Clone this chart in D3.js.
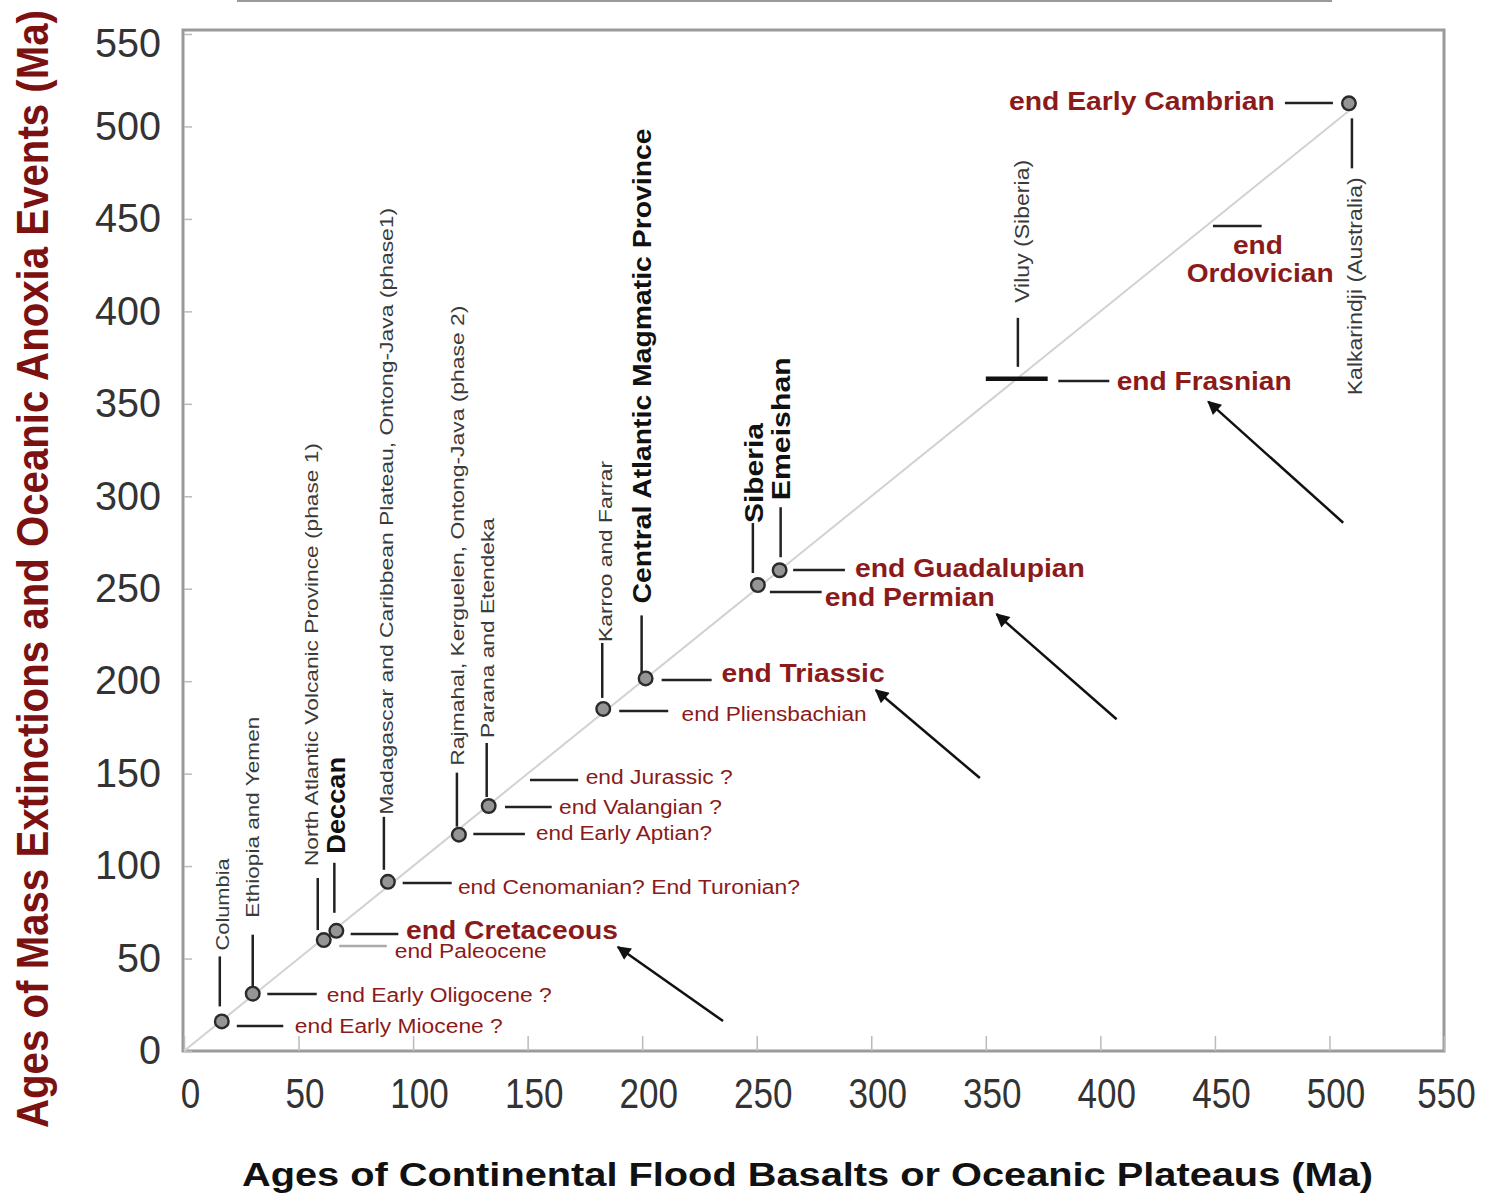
<!DOCTYPE html>
<html><head><meta charset="utf-8">
<script src="https://cdn.jsdelivr.net/npm/d3@7"></script>
<style>
body{margin:0;background:#fff;}
svg{display:block;}
text{font-family:'Liberation Sans',Arial,Helvetica,sans-serif;}
</style>
</head><body>
<svg id="chart" width="1489" height="1193"></svg>
<script>
// ---------------- DATA ----------------
const xTicks = [0,50,100,150,200,250,300,350,400,450,500,550];
const yTicks = [0,50,100,150,200,250,300,350,400,450,500,550];

const provinceNames = ["Columbia","Ethiopia and Yemen","North Atlantic Volcanic Province (phase 1)","Deccan",
  "Madagascar and Caribbean Plateau, Ontong-Java (phase1)","Rajmahal, Kerguelen, Ontong-Java (phase 2)",
  "Parana and Etendeka","Karroo and Farrar","Central Atlantic Magmatic Province","Siberia","Emeishan",
  "Viluy (Siberia)","Kalkarindji (Australia)"];
const provinceAges   = [16.5,30,61,66.5,89,120,133,183,201.5,250.5,260,364,508.5];
const extinctionAges = [16,31,60,65,91.5,117,132.5,185,201.5,252,260,363.5,512.5];
const provinceBold   = [false,false,false,true,false,false,false,false,true,true,true,false,false];
const viluyAgeRange  = [350,377];

const eventNames = ["end Early Miocene ?","end Early Oligocene ?","end Paleocene","end Cretaceous",
  "end Cenomanian? End Turonian?","end Early Aptian?","end Valangian ?","end Jurassic ?","end Pliensbachian",
  "end Triassic","end Permian","end Guadalupian","end Frasnian","end Ordovician","end Early Cambrian"];
const eventAges       = [13.5,30.8,56.8,63.3,90.9,117.4,132,146.6,183.9,200.6,248.2,260.1,362.4,446.2,512.7];
const eventAnchorAges = [16.5,30,61,66.5,89,120,133,145,183,201.5,250.5,260,364,445,508.5];
const eventMajor      = [false,false,false,true,false,false,false,false,false,true,true,true,true,true,true];

const diagonalAges = [0,510];

// ---------------- LAYOUT (pixel offsets, sizes) ----------------
// province label: [lineDx, lineDy0, lineDy1, textDx, textDy, textLength, fontSize]
const provinceLayout = [
  [-2,-15,-65, 7,-71, 92,19],
  [ 0, -6,-59, 6,-76,201,19],
  [-6,-10,-62,-6,-74,423,19],
  [-2,-18,-68, 9,-77, 97,26],
  [-4,-12,-65, 5,-67,607,19],
  [-2, -8,-62, 5,-69,460,19],
  [-2, -9,-63, 5,-68,220,19],
  [-1,-11,-66, 9,-67,181,19],
  [-4, -5,-63, 5,-75,475,26],
  [-5,-12,-62, 5,-62,100,26],
  [ 1,-13,-63,10,-70,143,26],
  [ 0,-12,-61,11,-76,143,20],
  [ 3, 15, 65,13,292,218,20]
];
// event label: [lineX0, lineX1, textDx, textDy, textLength]
const eventLayout = [
  [15,61.5,73,0,208],
  [14.6,64,74,1,225],
  [15.5,63,71,5,152],
  [14.3,62,69.6,-4,212],
  [14.8,63.8,70,4,342],
  [14.4,66,77,-1,176],
  [16.3,63,70.3,0,163],
  [13.8,62,69.5,-3,147],
  [16,65,78.4,3,185],
  [16,66,76,-7,163],
  [12,63.8,67,5,170],
  [13.5,65.3,75.3,-2,230],
  [40.4,91.4,98.8,0,175],
  [9.5,58.2,0,0,0],
  [-64,-16,-74,-1.5,266]
];
// arrows (in axis units): tail -> tip
const arrowTails = [[235.3,16.2],[347.4,147.6],[407.1,179.4],[506,285.7]];
const arrowTips  = [[189.4,56.2],[302,195.2],[354.7,236.3],[447.1,351.2]];

// ---------------- CHART ----------------
const svg = d3.select("#chart");
svg.append("rect").attr("width",1489).attr("height",1193).attr("fill","#fff");

const x = d3.scaleLinear().domain([0,550]).range([184,1444]);
const y = d3.scaleLinear().domain([0,550]).range([1051,34]);

const RED = "#8b1a1a", GRAY_TXT = "#3a3a3a";

// stray top line
svg.append("line").attr("x1",237).attr("x2",1332).attr("y1",1).attr("y2",1)
  .attr("stroke","#9a9a9a").attr("stroke-width",2);

// frame
svg.append("rect").attr("x",183).attr("y",30).attr("width",1261).attr("height",1021)
  .attr("fill","none").attr("stroke","#9a9a9a").attr("stroke-width",3);

// axes
const yAxis = d3.axisLeft(y).tickValues(yTicks).tickSize(-8).tickPadding(23).tickFormat(d3.format("d"));
const gy = svg.append("g").attr("transform","translate(184,0)").call(yAxis);
gy.select(".domain").remove();
gy.selectAll(".tick line").attr("stroke","#bbb").attr("stroke-width",1.5);
gy.selectAll(".tick text").attr("font-size",40).attr("fill","#333")
  .attr("font-family","'Liberation Sans',Arial,sans-serif")
  .attr("lengthAdjust","spacingAndGlyphs")
  .attr("textLength",d=>String(d).length*22)
  .attr("dy",d=>d===550?"1.5em":"0.32em");
gy.selectAll(".tick text").filter(d=>d===550).attr("dy","0.55em");

const xAxis = d3.axisBottom(x).tickValues(xTicks).tickSize(-15).tickPadding(27).tickFormat(d3.format("d"));
const gx = svg.append("g").attr("transform","translate(0,1051)").call(xAxis);
gx.select(".domain").remove();
gx.selectAll(".tick line").attr("stroke","#bbb").attr("stroke-width",1.5);
gx.selectAll(".tick text").attr("font-size",42).attr("fill","#333").attr("dx",d=>d===550?2:6)
  .attr("font-family","'Liberation Sans',Arial,sans-serif")
  .attr("lengthAdjust","spacingAndGlyphs")
  .attr("textLength",d=>String(d).length*19.5);

// axis titles
svg.append("text").attr("x",807.5).attr("y",1186).attr("text-anchor","middle")
  .attr("font-size",33).attr("font-weight","bold").attr("fill","#111")
  .attr("textLength",1131).attr("lengthAdjust","spacingAndGlyphs")
  .text("Ages of Continental Flood Basalts or Oceanic Plateaus (Ma)");
svg.append("text").attr("transform","translate(48,1128) rotate(-90)").attr("text-anchor","start")
  .attr("font-size",44).attr("font-weight","bold").attr("fill","#7b1111")
  .attr("textLength",1118).attr("lengthAdjust","spacingAndGlyphs")
  .text("Ages of Mass Extinctions and Oceanic Anoxia Events  (Ma)");

// diagonal 1:1 line
svg.append("line")
  .attr("x1",x(diagonalAges[0])).attr("y1",y(diagonalAges[0]))
  .attr("x2",x(diagonalAges[1])).attr("y2",y(diagonalAges[1]))
  .attr("stroke","#d2d2d2").attr("stroke-width",2);

// province connectors + labels
const provinces = provinceNames.map((n,i)=>({name:n, px:x(provinceAges[i]), py:y(extinctionAges[i]), bold:provinceBold[i], L:provinceLayout[i]}));
const gp = svg.append("g");
provinces.forEach(p=>{
  const [ldx,ldy0,ldy1,tdx,tdy,tlen,fs] = p.L;
  gp.append("line").attr("x1",p.px+ldx).attr("x2",p.px+ldx).attr("y1",p.py+ldy0).attr("y2",p.py+ldy1)
    .attr("stroke","#222").attr("stroke-width",2.5);
  gp.append("text").attr("transform",`translate(${p.px+tdx},${p.py+tdy}) rotate(-90)`)
    .attr("text-anchor","start").attr("font-size",fs).attr("font-weight",p.bold?"bold":"normal")
    .attr("fill",p.bold?"#111":GRAY_TXT)
    .attr("textLength",tlen).attr("lengthAdjust","spacingAndGlyphs").text(p.name);
});

// Viluy age range bar
const vi = provinceNames.indexOf("Viluy (Siberia)");
svg.append("line").attr("x1",x(viluyAgeRange[0])).attr("x2",x(viluyAgeRange[1]))
  .attr("y1",y(extinctionAges[vi])).attr("y2",y(extinctionAges[vi]))
  .attr("stroke","#111").attr("stroke-width",4.5);

// event connectors + labels
const ge = svg.append("g");
eventNames.forEach((n,i)=>{
  const ax = x(eventAnchorAges[i]), ey = y(eventAges[i]);
  const [x0,x1,tdx,tdy,tlen] = eventLayout[i];
  const isPaleo = n==="end Paleocene";
  ge.append("line").attr("x1",ax+x0).attr("x2",ax+x1).attr("y1",ey).attr("y2",ey)
    .attr("stroke",isPaleo?"#aaa":"#222").attr("stroke-width",2.5);
  const fs = eventMajor[i]?25:20;
  const fw = eventMajor[i]?"bold":"normal";
  if(n==="end Ordovician"){
    ge.append("text").attr("x",ax+54.5).attr("y",ey+19).attr("text-anchor","middle")
      .attr("dominant-baseline","central").attr("font-size",fs).attr("font-weight",fw).attr("fill",RED)
      .attr("textLength",50).attr("lengthAdjust","spacingAndGlyphs").text("end");
    ge.append("text").attr("x",ax-16.8).attr("y",ey+47).attr("text-anchor","start")
      .attr("dominant-baseline","central").attr("font-size",fs).attr("font-weight",fw).attr("fill",RED)
      .attr("textLength",147).attr("lengthAdjust","spacingAndGlyphs").text("Ordovician");
  } else {
    ge.append("text").attr("x",ax+tdx).attr("y",ey+tdy)
      .attr("text-anchor",tdx<0?"end":"start").attr("dominant-baseline","central")
      .attr("font-size",fs).attr("font-weight",fw).attr("fill",RED)
      .attr("textLength",tlen).attr("lengthAdjust","spacingAndGlyphs").text(n);
  }
});

// points
svg.append("g").selectAll("circle")
  .data(provinces.filter(p=>p.name!=="Viluy (Siberia)"))
  .join("circle")
  .attr("cx",d=>d.px).attr("cy",d=>d.py).attr("r",6.8)
  .attr("fill","#959595").attr("stroke","#2a2a2a").attr("stroke-width",2.4);

// arrows
const defs = svg.append("defs");
defs.append("marker").attr("id","ah").attr("viewBox","0 0 10 10").attr("refX",9).attr("refY",5)
  .attr("markerWidth",7).attr("markerHeight",5.5).attr("markerUnits","strokeWidth").attr("orient","auto")
  .append("path").attr("d","M0,0 L10,5 L0,10 z").attr("fill","#111");
arrowTails.forEach((t,i)=>{
  const h = arrowTips[i];
  svg.append("line").attr("x1",x(t[0])).attr("y1",y(t[1])).attr("x2",x(h[0])).attr("y2",y(h[1]))
    .attr("stroke","#111").attr("stroke-width",2.5).attr("marker-end","url(#ah)");
});
</script>
</body></html>
